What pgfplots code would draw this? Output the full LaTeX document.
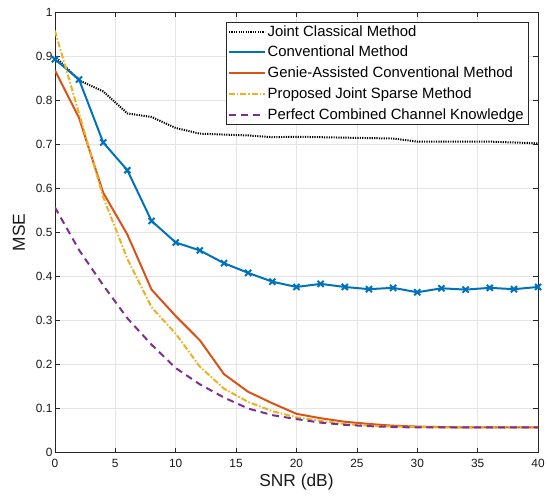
\documentclass[border=0pt]{standalone}
\usepackage{pgfplots}
\pgfplotsset{compat=1.18}
\usepackage{fontspec}
\setmainfont{Liberation Sans}
\definecolor{mblue}{rgb}{0,0.447,0.741}
\definecolor{morange}{rgb}{0.85,0.325,0.098}
\definecolor{myellow}{rgb}{0.929,0.694,0.125}
\definecolor{mpurple}{rgb}{0.494,0.184,0.556}
\begin{document}
\begin{tikzpicture}[x=1bp,y=1bp]
\draw[white] (-55,-43) rectangle (493,455);
\begin{axis}[
  at={(0,0)}, anchor=south west,
  scale only axis, width=486bp, height=443bp,
  xmin=0, xmax=40, ymin=0, ymax=1,
  xtick={0,5,...,40}, ytick={0,0.1,...,1},
  yticklabels={0,0.1,0.2,0.3,0.4,0.5,0.6,0.7,0.8,0.9,1},
  tick align=inside, tick pos=both,
  major tick length=5bp,
  grid=major, grid style={gray!20, line width=0.7bp},
  axis line style={gray!30!black, line width=0.7bp},
  every tick/.style={gray!30!black, line width=0.7bp},
  ticklabel style={font=\fontsize{12}{14}\selectfont, text=gray!20!black},
  yticklabel style={xshift=1bp},
  xticklabel style={yshift=-3bp},
  /pgf/number format/assume math mode=true,
  xlabel={SNR (dB)}, ylabel={MSE},
  label style={font=\fontsize{17.5}{20}\selectfont, text=gray!20!black},
  xlabel style={yshift=0bp},
  ylabel style={yshift=4bp},
  legend style={at={(0.979,0.977)}, anchor=north east, draw=gray!30!black,
    font=\fontsize{15}{17}\selectfont, row sep=4.6bp, inner xsep=2bp, inner ysep=1bp, fill=white},
  legend cell align=left,
  legend image code/.code={\draw[#1, line width=2bp] (0bp,0bp) -- (36bp,0bp);},
]
\addplot[black, line width=2bp, dash pattern=on 1.2bp off 1.2bp] coordinates {
(0,0.900)(2,0.845)(4,0.820)(6,0.770)(8,0.762)(10,0.737)(12,0.724)(14,0.722)(16,0.720)(18,0.716)(20,0.717)(22,0.716)(24,0.715)(26,0.714)(28,0.713)(30,0.706)(32,0.706)(34,0.706)(36,0.706)(38,0.704)(40,0.702)};
\addlegendentry{Joint Classical Method}
\addplot[mblue, line width=2bp, mark=x, mark size=4.3bp, mark options={line width=2bp, solid}] coordinates {
(0,0.893)(2,0.847)(4,0.704)(6,0.641)(8,0.526)(10,0.477)(12,0.459)(14,0.430)(16,0.408)(18,0.388)(20,0.376)(22,0.383)(24,0.376)(26,0.371)(28,0.374)(30,0.364)(32,0.373)(34,0.370)(36,0.374)(38,0.371)(40,0.376)};
\addlegendentry{Conventional Method}
\addplot[morange, line width=2bp] coordinates {
(0,0.868)(2,0.760)(4,0.590)(6,0.495)(8,0.370)(10,0.310)(12,0.255)(14,0.178)(16,0.138)(18,0.112)(20,0.088)(22,0.078)(24,0.070)(26,0.065)(28,0.061)(30,0.059)(32,0.058)(34,0.057)(36,0.057)(38,0.057)(40,0.057)};
\addlegendentry{Genie-Assisted Conventional Method}
\addplot[myellow, line width=2bp, dash pattern=on 6bp off 2bp on 1.5bp off 2bp] coordinates {
(0,0.958)(2,0.770)(4,0.580)(6,0.440)(8,0.330)(10,0.270)(12,0.195)(14,0.145)(16,0.115)(18,0.094)(20,0.080)(22,0.072)(24,0.065)(26,0.061)(28,0.059)(30,0.058)(32,0.057)(34,0.057)(36,0.057)(38,0.057)(40,0.057)};
\addlegendentry{Proposed Joint Sparse Method}
\addplot[mpurple, line width=2bp, dash pattern=on 7bp off 5bp] coordinates {
(0,0.557)(2,0.460)(4,0.380)(6,0.305)(8,0.245)(10,0.192)(12,0.155)(14,0.125)(16,0.100)(18,0.085)(20,0.076)(22,0.068)(24,0.063)(26,0.060)(28,0.058)(30,0.057)(32,0.057)(34,0.057)(36,0.057)(38,0.057)(40,0.057)};
\addlegendentry{Perfect Combined Channel Knowledge}
\end{axis}
\end{tikzpicture}
\end{document}
